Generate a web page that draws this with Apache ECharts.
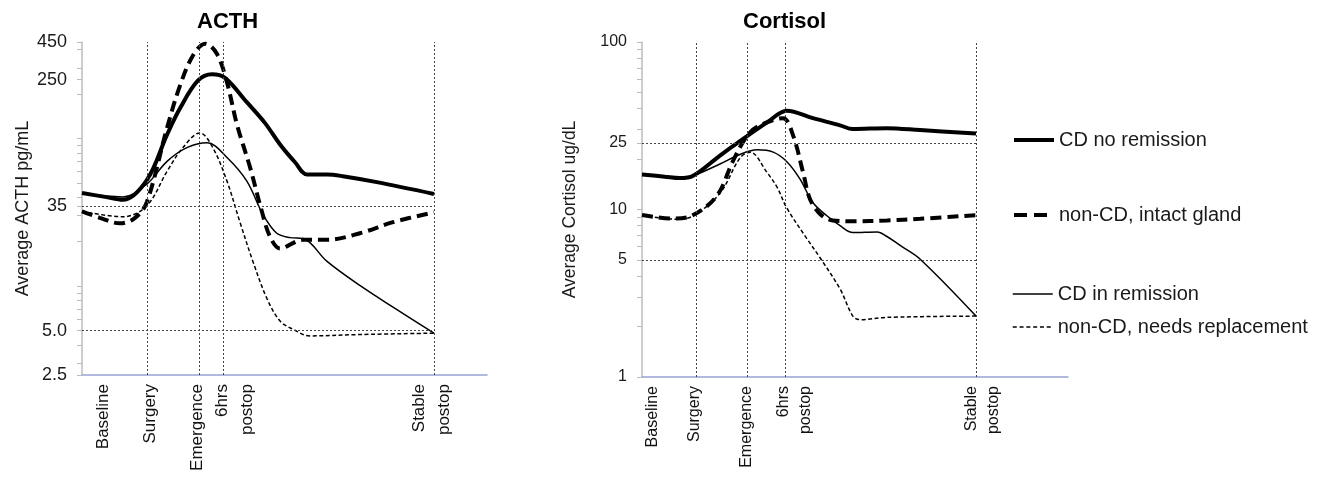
<!DOCTYPE html>
<html><head><meta charset="utf-8">
<script src="https://cdn.jsdelivr.net/npm/echarts@6/dist/echarts.min.js"></script>
<style>html,body{margin:0;padding:0;background:#fff}#c{width:1335px;height:477px}</style>
</head><body><div id="c"></div>
<script>
// ---------- DATA ----------
const seriesNames = ['CD no remission', 'non-CD, intact gland', 'CD in remission', 'non-CD, needs replacement'];
const timeLabels = ['Baseline', 'Surgery', 'Emergence', '6hrs\npostop', 'Stable\npostop'];

// ACTH (pg/mL), x = relative time position on a 0-100 scale
const acthNoRemX = [0, 5.7, 10.1, 16.0, 21.0, 24.2, 28.6, 32.1, 35.3, 40.7, 45.2, 48.9, 52.6, 55.6, 60.5, 64.4, 72.8, 86.9];
const acthNoRemY = [42.7, 40.2, 38.4, 52.2, 106, 160, 246, 272, 257, 176, 127, 91, 69, 57, 57, 55.5, 50.6, 42.1];
const acthIntactX = [0, 4.4, 9.4, 13.1, 16.0, 21.0, 24.2, 27.4, 30.4, 33.3, 35.8, 38.3, 41.5, 44.4, 46.4, 48.9, 54.6, 60.5, 68.6, 76.8, 86.9];
const acthIntactY = [32.1, 29.0, 26.6, 29.0, 37, 118, 228, 365, 438, 375, 239, 123, 63.7, 32.1, 21.7, 18.0, 20.6, 20.6, 22.8, 27.1, 31.6];
const acthRemX = [0, 10.1, 16.0, 21.0, 25.9, 30.9, 35.8, 40.7, 44.7, 48.1, 51.4, 54.6, 60.5, 68.6, 76.8, 86.9];
const acthRemY = [42.7, 40.2, 49.1, 69.9, 86.6, 93.5, 74.3, 51.4, 30.5, 22.8, 21.3, 21.0, 14.7, 10.1, 7.2, 4.8];
const acthReplX = [0, 10.1, 16.0, 21.0, 24.9, 29.1, 32.3, 35.8, 39.0, 42.2, 45.7, 48.9, 52.1, 56.3, 68.6, 86.9];
const acthReplY = [32.1, 29.5, 35.0, 59.9, 86.6, 109, 86.6, 51.4, 27.1, 14.7, 8.2, 5.8, 5.1, 4.6, 4.7, 4.8];
const acthMilestones = [16.0, 28.9, 34.8, 86.9];
const acthRefLines = [35, 5];
const acthLabelPos = [5.2, 16.8, 28.4, 37.8, 86.4];
const acthTickValues = [2.5, 5, 35, 250, 450];
const acthTickText = ['2.5', '5.0', '35', '250', '450'];
const acthMinorTicks = [2.5, 3, 4, 5, 6, 7, 8, 9, 10, 20, 30, 35, 40, 50, 60, 70, 80, 90, 100, 200, 250, 300, 400, 450];

// Cortisol (ug/dL)
const cortNoRemX = [0, 5.4, 8.9, 12.0, 18.3, 23.0, 29.3, 34.0, 40.1, 46.5, 49.5, 57.5, 65.3, 78.4];
const cortNoRemY = [16.2, 15.7, 15.4, 15.9, 21.0, 25.6, 33.0, 38.9, 35.1, 31.8, 30.2, 30.6, 29.8, 28.4];
const cortIntactX = [0, 7.3, 12.0, 17.6, 21.4, 24.9, 27.7, 33.1, 35.4, 37.8, 39.4, 41.8, 44.8, 49.5, 57.5, 65.3, 78.4];
const cortIntactY = [9.26, 8.82, 9.26, 12.1, 19.6, 28.0, 31.8, 35.1, 28.0, 16.7, 11.6, 9.4, 8.6, 8.5, 8.6, 8.8, 9.26];
const cortRemX = [0, 8.9, 12.0, 18.3, 23.0, 27.0, 30.8, 34.0, 37.1, 40.1, 43.4, 46.5, 49.5, 55.2, 57.5, 60.6, 65.3, 78.4];
const cortRemY = [16.2, 15.4, 15.9, 18.7, 21.3, 22.7, 22.0, 19.3, 15.2, 11.0, 9.17, 8.0, 7.28, 7.35, 6.9, 6.1, 5.05, 2.31];
const cortReplX = [0, 8.2, 12.0, 18.3, 23.0, 25.4, 29.3, 31.7, 34.0, 38.7, 41.8, 46.5, 49.5, 51.2, 57.5, 78.4];
const cortReplY = [9.26, 8.74, 9.17, 12.5, 20.3, 22.0, 16.7, 13.6, 10.2, 6.7, 5.15, 3.35, 2.31, 2.2, 2.27, 2.31];
const cortMilestones = [12.7, 24.6, 33.6, 78.4];
const cortRefLines = [25, 5];
const cortLabelPos = [2.6, 12.4, 24.6, 35.9, 80.0];
const cortTickValues = [1, 5, 10, 25, 100];
const cortTickText = ['1', '5', '10', '25', '100'];
const cortMinorTicks = [1, 2, 3, 4, 5, 6, 7, 8, 9, 10, 20, 25, 30, 40, 50, 60, 70, 80, 90, 100];

// ---------- CHART ----------
const FONT = '"Liberation Sans", Arial, Helvetica, sans-serif';
const lineStyles = [
  { width: 4, type: 'solid' },
  { width: 4, type: [11, 6] },
  { width: 1.5, type: 'solid' },
  { width: 1.5, type: [4, 2.5] }
];
const legendDash = ['solid', [13, 7], 'solid', [4, 2.8]];
function pairs(xs, ys) { return xs.map((x, i) => [x, ys[i]]); }
function pick(values, texts) {
  return function (v) {
    for (let i = 0; i < values.length; i++) {
      if (Math.abs(v - values[i]) < 1e-6 * Math.max(1, Math.abs(values[i]))) return texts[i];
    }
    return '';
  };
}
function buildSeries(idx, xsList, ysList, marks, refs, refEnd) {
  return xsList.map((xs, i) => {
    const s = {
      name: seriesNames[i], type: 'line', xAxisIndex: idx, yAxisIndex: idx,
      data: pairs(xs, ysList[i]), symbol: 'none', smooth: 0.35,
      lineStyle: Object.assign({ color: '#000' }, lineStyles[i]),
      itemStyle: { color: '#000' },
      z: i < 2 ? 4 : 3, animation: false, silent: true
    };
    if (i === 0) {
      s.markLine = {
        silent: true, symbol: ['none', 'none'], animation: false,
        label: { show: false },
        lineStyle: { color: '#444', width: 1, type: [2, 2] },
        data: marks.map(v => ({ xAxis: v })).concat(
          refs.map(r => [{ coord: [0, r] }, { coord: [refEnd, r] }]))
      };
    }
    return s;
  });
}
function xAxisDef(idx, labelPos, fontSize, lineHeight) {
  return {
    type: 'value', gridIndex: idx, min: 0, max: 100,
    axisLine: { show: true, onZero: false, lineStyle: { color: '#98a4d4', width: 1.5 } },
    axisTick: { show: false }, splitLine: { show: false },
    axisLabel: {
      customValues: labelPos, formatter: pick(labelPos, timeLabels),
      rotate: 90, fontSize: fontSize, lineHeight: lineHeight, margin: 9, color: '#111', fontFamily: FONT
    }
  };
}
function yAxisDef(idx, min, max, tv, tt, minor, name, gap, fs, nameFs) {
  return {
    type: 'log', logBase: 10, gridIndex: idx, min: min, max: max,
    axisLine: { show: true, lineStyle: { color: '#bdbdbd', width: 1.5 } },
    axisTick: { show: true, length: 5, customValues: minor, lineStyle: { color: '#bdbdbd', width: 1 } },
    axisLabel: { customValues: tv, formatter: pick(tv, tt), fontSize: fs, color: '#1a1a1a', margin: 15, fontFamily: FONT },
    splitLine: { show: false }, minorTick: { show: false },
    name: name, nameLocation: 'middle', nameRotate: 90, nameGap: gap,
    nameTextStyle: { fontSize: nameFs, color: '#1a1a1a', fontFamily: FONT }
  };
}
const legendTops = [142, 217, 296, 329];
const option = {
  backgroundColor: '#fff',
  animation: false,
  textStyle: { fontFamily: FONT },
  title: [
    { text: 'ACTH', left: 197, top: 11, padding: 0, textStyle: { fontSize: 22, fontWeight: 'bold', color: '#000', fontFamily: FONT } },
    { text: 'Cortisol', left: 743, top: 11, padding: 0, textStyle: { fontSize: 22, fontWeight: 'bold', color: '#000', fontFamily: FONT } }
  ],
  legend: seriesNames.map((n, i) => ({
    data: [n], left: 1012, top: legendTops[i] - 12, padding: 0, orient: 'vertical',
    itemWidth: 40, itemHeight: 24, itemGap: 0, selectedMode: false,
    itemStyle: { opacity: 0 },
    lineStyle: { width: lineStyles[i].width, type: legendDash[i], color: '#000' },
    textStyle: { fontSize: 20, color: '#1a1a1a', fontFamily: FONT }
  })),
  grid: [
    { left: 82, top: 42, width: 405, height: 333 },
    { left: 642, top: 42, width: 426, height: 335 }
  ],
  xAxis: [xAxisDef(0, acthLabelPos, 17, 25), xAxisDef(1, cortLabelPos, 16, 22)],
  yAxis: [
    yAxisDef(0, 2.5, 450, acthTickValues, acthTickText, acthMinorTicks, 'Average ACTH pg/mL', 50, 18, 18),
    yAxisDef(1, 1, 100, cortTickValues, cortTickText, cortMinorTicks, 'Average Cortisol ug/dL', 63, 16, 17.5)
  ],
  series: buildSeries(0, [acthNoRemX, acthIntactX, acthRemX, acthReplX], [acthNoRemY, acthIntactY, acthRemY, acthReplY], acthMilestones, acthRefLines, 86.9)
    .concat(buildSeries(1, [cortNoRemX, cortIntactX, cortRemX, cortReplX], [cortNoRemY, cortIntactY, cortRemY, cortReplY], cortMilestones, cortRefLines, 78.4))
};
const chart = echarts.init(document.getElementById('c'));
chart.setOption(option);
</script>
</body></html>
